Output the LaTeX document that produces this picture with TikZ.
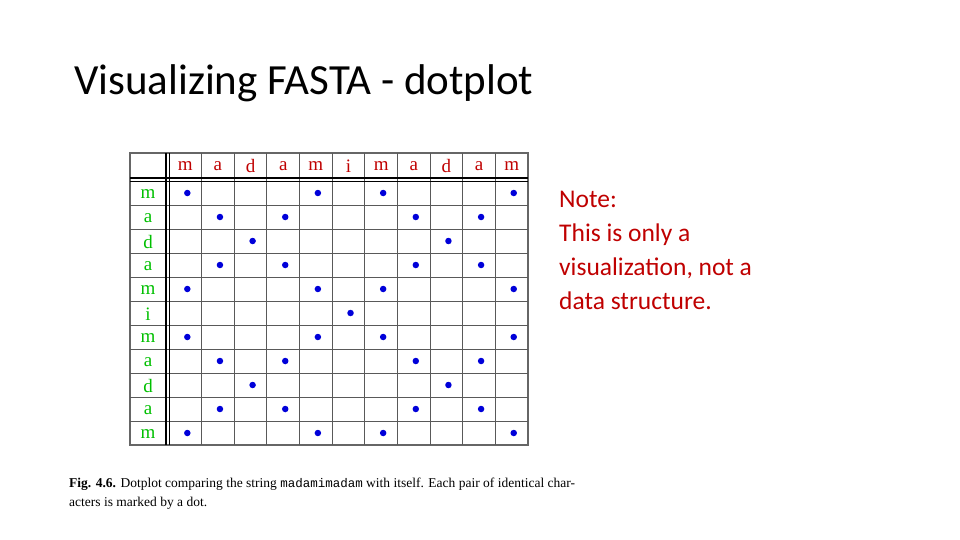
\documentclass[tikz,border=0pt]{standalone}
\usepackage{fontspec}
\setmainfont{Carlito}
\newfontfamily\tnr{Liberation Serif}
\newfontfamily\cour{Liberation Mono}
\begin{document}
\begin{tikzpicture}[x=1pt,y=-1pt,
  lab/.style={font=\fontsize{19}{19}\selectfont\tnr, anchor=center},
  dotm/.style={circle,fill=blue!85!black,inner sep=0pt,minimum size=6.5pt}]
\useasboundingbox (0,0) rectangle (960,540);
\node[anchor=base west,inner sep=0pt,font=\fontsize{43}{43}\selectfont] (title) at (74,95) {Visualizing FASTA - dotplot};
\def\S{{"m","a","d","a","m","i","m","a","d","a","m"}}
% grid
\draw[gray!80!black,line width=1.2pt] (130,153) rectangle (528,445);
\foreach \i in {1,...,10} {
  \draw[gray!70!black,line width=1pt] ({169+\i*32.64},153) -- ({169+\i*32.64},445);
  \draw[gray!70!black,line width=1pt] (130,{181+\i*24}) -- (528,{181+\i*24});
}
\draw[black,line width=1.2pt] (166,153) -- (166,445) (169.5,153) -- (169.5,445);
\draw[black,line width=1.2pt] (130,178) -- (528,178) (130,181.5) -- (528,181.5);
\foreach \i in {0,...,10} {
  \pgfmathsetmacro{\c}{\S[\i]}
  \node[lab,text=red!75!black] (h\i) at ({169+(\i+0.5)*32.64},166) {\c};
  \node[lab,text=green!75!black] (r\i) at (148,{181+(\i+0.5)*24+1}) {\c};
}
\foreach \i in {0,...,10} {
  \foreach \j in {0,...,10} {
    \pgfmathsetmacro{\a}{\S[\i]}
    \pgfmathsetmacro{\b}{\S[\j]}
    \ifx\a\b
      \node[dotm] (d\i-\j) at ({169+(\j+0.5)*32.64+2},{181+(\i+0.5)*24}) {};
    \fi
  }
}
\node[anchor=north west,align=left,inner sep=0pt,text=red!75!black,font=\fontsize{25.5}{34}\selectfont] (note) at (559,191) {Note:\\This is only a\\visualization, not a\\data structure.};
\node[anchor=north west,align=left,inner sep=0pt,font=\fontsize{13.5}{19}\selectfont\tnr] (cap) at (69,478) {\textbf{Fig. 4.6.} Dotplot comparing the string {\cour\fontsize{12.5}{19}\selectfont madamimadam} with itself. Each pair of identical char-\\acters is marked by a dot.};
\end{tikzpicture}
\end{document}
